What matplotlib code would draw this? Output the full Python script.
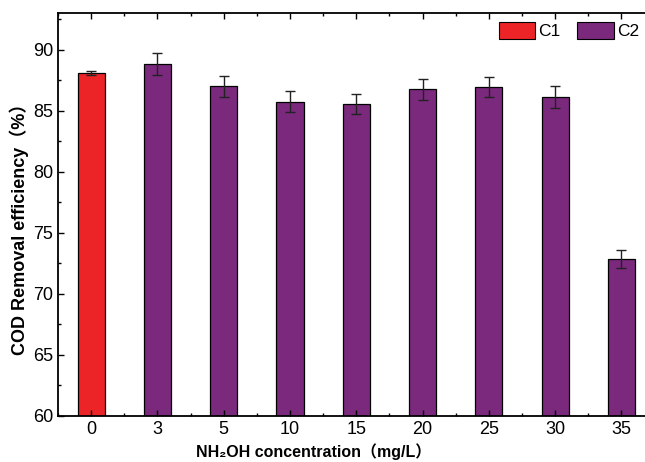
import matplotlib
matplotlib.use("Agg")
import matplotlib.pyplot as plt
from matplotlib.ticker import MultipleLocator, AutoMinorLocator
from matplotlib.patches import Patch

# data
concentrations = ["0", "3", "5", "10", "15", "20", "25", "30", "35"]
removal = [88.1, 88.85, 87.0, 85.75, 85.55, 86.75, 86.95, 86.1, 72.85]
errors = [0.15, 0.9, 0.85, 0.85, 0.85, 0.85, 0.85, 0.9, 0.75]
groups = ["C1", "C2", "C2", "C2", "C2", "C2", "C2", "C2", "C2"]

colors = {"C1": "#ED2427", "C2": "#7B297D"}

plt.rcParams['font.family'] = ['Liberation Sans', 'DejaVu Sans', 'Noto Sans CJK SC']

fig = plt.figure(figsize=(6.45, 4.62), dpi=100)
ax = fig.add_axes([0.0899, 0.0996, 0.925, 0.872])

x = list(range(len(concentrations)))
bar_colors = [colors[g] for g in groups]
ax.bar(x, removal, width=0.41, color=bar_colors, edgecolor="black", linewidth=0.9,
       yerr=errors, error_kw=dict(ecolor="#222222", elinewidth=1.0, capsize=3.5, capthick=1.0))

ax.set_xlim(-0.5, 8.5)
ax.set_ylim(60, 93)
ax.set_xticks(x)
ax.set_xticklabels(concentrations)
ax.xaxis.set_minor_locator(MultipleLocator(0.5))
ax.yaxis.set_major_locator(MultipleLocator(5))
ax.yaxis.set_minor_locator(AutoMinorLocator(2))

ax.tick_params(which="both", direction="in", top=True, right=False, labelsize=13, width=1.0)
ax.tick_params(which="major", length=4)
ax.tick_params(which="minor", length=2.5)
for s in ["left", "bottom", "top"]:
    ax.spines[s].set_linewidth(1.3)
ax.spines["right"].set_visible(False)

ax.set_xlabel("NH₂OH concentration（mg/L）", fontsize=11.5, fontweight="bold", labelpad=4)
ax.xaxis.label.set_x(0.429)
ax.set_ylabel("COD Removal efficiency（%）", fontsize=13, fontweight="bold", labelpad=3)
ax.yaxis.label.set_y(0.475)

handles = [Patch(facecolor=colors[k], edgecolor="black", linewidth=0.8) for k in ["C1", "C2"]]
ax.legend(handles, ["C1", "C2"], ncol=2, frameon=False, fontsize=12.5,
          loc="upper left", bbox_to_anchor=(0.727, 0.995), borderaxespad=0,
          handlelength=2.1, handleheight=1.1, columnspacing=0.95, handletextpad=0.2)

fig.savefig("out.png", dpi=100)
